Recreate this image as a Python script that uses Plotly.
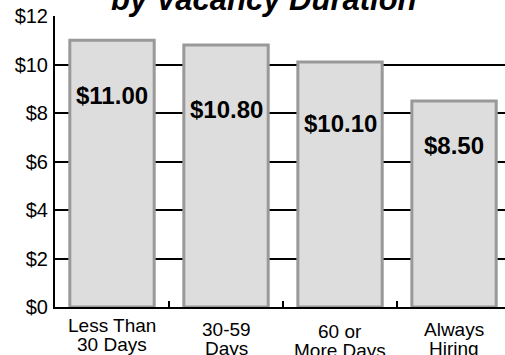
import plotly.graph_objects as go

# Wage offers by how long the vacancy has been open
categories = ["Less Than\n30 Days", "30-59\nDays", "60 or\nMore Days", "Always\nHiring"]
wages = [11.00, 10.80, 10.10, 8.50]
y_ticks = [0, 2, 4, 6, 8, 10, 12]
y_tick_labels = ["$0", "$2", "$4", "$6", "$8", "$10", "$12"]

FONT = "Liberation Sans, Arial, Helvetica, sans-serif"

# pixel drop of each value label below its bar top
value_label_drop = [55, 64, 61, 45]
# extra pixel drop of each category label below the axis
category_label_drop = [0, 4, 6, 4]
LINE_PITCH = 19

x_idx = list(range(len(categories)))

fig = go.Figure(
    go.Bar(
        x=x_idx,
        y=wages,
        width=0.74,
        marker=dict(color="#dddddd", line=dict(color="#999999", width=3)),
        hoverinfo="skip",
    )
)

# value labels inside the bars
for i, v in enumerate(wages):
    fig.add_annotation(
        x=i, y=v, xref="x", yref="y",
        text=f"<b>${v:.2f}</b>",
        showarrow=False,
        yanchor="middle",
        yshift=-value_label_drop[i],
        font=dict(family=FONT, size=24, color="black"),
    )

# two-line category labels under the axis, set with a tight line pitch
for i, cat in enumerate(categories):
    for j, line in enumerate(cat.split("\n")):
        fig.add_annotation(
            x=i, y=0, xref="x", yref="paper",
            text=line,
            showarrow=False,
            yanchor="top",
            yshift=-(6 + category_label_drop[i] + LINE_PITCH * j),
            font=dict(family=FONT, size=19, color="black"),
        )

# chart subtitle along the top edge
fig.add_annotation(
    x=(264 - 55) / 450, y=1, xref="paper", yref="paper",
    text="<b><i>by Vacancy Duration</i></b>",
    showarrow=False,
    yanchor="bottom",
    yshift=-3,
    font=dict(family=FONT, size=31, color="black"),
)

fig.update_layout(
    width=505,
    height=355,
    margin=dict(l=55, r=0, t=16, b=48),
    paper_bgcolor="white",
    plot_bgcolor="white",
    showlegend=False,
    xaxis=dict(
        type="linear",
        range=[-0.5, 3.447],
        tickvals=[0.5, 1.5, 2.5],
        ticks="inside",
        ticklen=6,
        tickwidth=2,
        tickcolor="black",
        showticklabels=False,
        showgrid=False,
        zeroline=False,
        showline=True,
        linecolor="black",
        linewidth=2,
    ),
    yaxis=dict(
        range=[0, 12],
        tickvals=y_ticks,
        ticktext=y_tick_labels,
        ticks="",
        ticklabelstandoff=1,
        tickfont=dict(family=FONT, size=20, color="black"),
        showgrid=True,
        gridcolor="black",
        gridwidth=1.5,
        zeroline=False,
        showline=True,
        linecolor="black",
        linewidth=2,
    ),
)

fig.write_html("out.html")
